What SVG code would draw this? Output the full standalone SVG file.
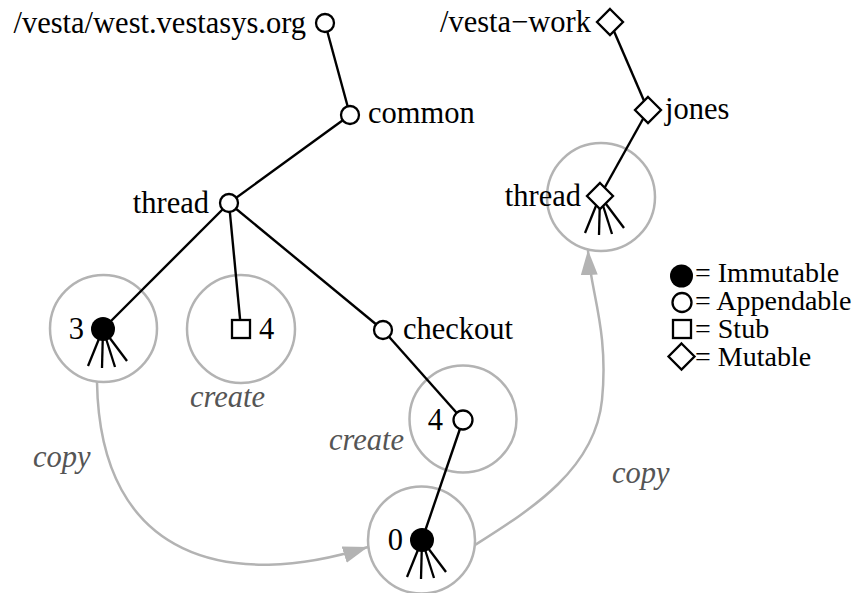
<svg xmlns="http://www.w3.org/2000/svg" xmlns:xlink="http://www.w3.org/1999/xlink" width="854" height="593" viewBox="0 0 854 593">
<style>
.lbl{font-family:"Liberation Serif","Times New Roman",serif;font-size:30.5px;fill:#000}
.leg{font-family:"Liberation Serif","Times New Roman",serif;font-size:28px;fill:#000}
.act{font-family:"Liberation Serif","Times New Roman",serif;font-size:30.5px;font-style:italic;fill:#555}
.edge{stroke:#000;stroke-width:2.4;fill:none}
.ring{stroke:#b3b3b3;stroke-width:2.5;fill:none}
.copy{stroke:#b3b3b3;stroke-width:2.5;fill:none;marker-end:url(#ah)}
.app{fill:#fff;stroke:#000;stroke-width:2.3}
.imm{fill:#000}
.fan{stroke:#000;stroke-width:2.3}
</style>
<defs>
<marker id="ah" markerUnits="userSpaceOnUse" markerWidth="26" markerHeight="20" viewBox="0 0 26 20" refX="25" refY="10" orient="auto">
<path d="M0,1.5 L25,10 L0,18.5 z" fill="#b3b3b3"/>
</marker>
<g id="fanlines">
<line class="fan" x1="0" y1="0" x2="-15" y2="37"/>
<line class="fan" x1="0" y1="0" x2="-1" y2="39"/>
<line class="fan" x1="0" y1="0" x2="12" y2="38"/>
<line class="fan" x1="0" y1="0" x2="24" y2="32"/>
</g>
</defs>
<rect width="854" height="593" fill="#fff"/>

<g id="rings">
<circle class="ring" cx="103.5" cy="328.5" r="53.5"/>
<circle class="ring" cx="241" cy="329" r="54"/>
<circle class="ring" cx="463" cy="419" r="53.5"/>
<circle class="ring" cx="421.5" cy="540" r="53.5"/>
<circle class="ring" cx="601" cy="197" r="54"/>
</g>

<g id="connectors">
<line class="edge" x1="325" y1="23" x2="350" y2="115"/>
<line class="edge" x1="350" y1="115" x2="229" y2="203"/>
<line class="edge" x1="229" y1="203" x2="103" y2="329"/>
<line class="edge" x1="229" y1="203" x2="241" y2="329"/>
<line class="edge" x1="229" y1="203" x2="383" y2="330"/>
<line class="edge" x1="383" y1="330" x2="463" y2="420"/>
<line class="edge" x1="463" y1="420" x2="422" y2="540"/>
<line class="edge" x1="610" y1="22" x2="648" y2="110"/>
<line class="edge" x1="648" y1="110" x2="600" y2="196"/>
<path class="copy" d="M97,382 C100,562 232,590 368,547"/>
<path class="copy" d="M475,545 C530,510 595,470 602,400 S590,290 588,250"/>
</g>

<g id="node-root">
<circle class="app" cx="325" cy="23" r="9"/>
<text class="lbl" x="306" y="33" text-anchor="end">/vesta/west.vestasys.org</text>
</g>
<g id="node-common">
<circle class="app" cx="350" cy="115" r="9"/>
<text class="lbl" x="368" y="123">common</text>
</g>
<g id="node-thread">
<circle class="app" cx="229" cy="203" r="9"/>
<text class="lbl" x="209" y="213" text-anchor="end">thread</text>
</g>
<g id="node-3">
<use xlink:href="#fanlines" x="103" y="329"/>
<circle class="imm" cx="103" cy="329" r="12"/>
<text class="lbl" x="84" y="339" text-anchor="end">3</text>
</g>
<g id="node-stub4">
<rect class="app" x="232" y="320" width="18" height="18"/>
<text class="lbl" x="259" y="339">4</text>
</g>
<g id="node-checkout">
<circle class="app" cx="383" cy="330" r="9"/>
<text class="lbl" x="403" y="339">checkout</text>
</g>
<g id="node-4">
<circle class="app" cx="463" cy="420" r="9.5"/>
<text class="lbl" x="443" y="430" text-anchor="end">4</text>
</g>
<g id="node-0">
<use xlink:href="#fanlines" x="422" y="540"/>
<circle class="imm" cx="422" cy="540" r="12"/>
<text class="lbl" x="403" y="550" text-anchor="end">0</text>
</g>
<g id="node-vesta-work">
<path class="app" d="M610,9 L623,22 L610,35 L597,22 z"/>
<text class="lbl" x="591" y="32" text-anchor="end">/vesta−work</text>
</g>
<g id="node-jones">
<path class="app" d="M648,97 L661,110 L648,123 L635,110 z"/>
<text class="lbl" x="665" y="119">jones</text>
</g>
<g id="node-thread2">
<use xlink:href="#fanlines" x="600" y="196"/>
<path class="app" d="M600,183 L613,196 L600,209 L587,196 z"/>
<text class="lbl" x="581" y="206" text-anchor="end">thread</text>
</g>

<g id="labels">
<text class="act" x="190" y="407">create</text>
<text class="act" x="404" y="450" text-anchor="end">create</text>
<text class="act" x="33" y="467">copy</text>
<text class="act" x="612" y="483">copy</text>
</g>

<g id="legend">
<circle class="imm" cx="681.5" cy="276" r="11.5"/>
<text class="leg" x="695" y="282">= Immutable</text>
<circle class="app" cx="682" cy="302.5" r="9.5"/>
<text class="leg" x="695" y="310">= Appendable</text>
<rect class="app" x="673" y="320" width="18" height="18"/>
<text class="leg" x="695" y="338">= Stub</text>
<path class="app" d="M681.5,343.5 L694.5,356.5 L681.5,369.5 L668.5,356.5 z"/>
<text class="leg" x="695" y="366">= Mutable</text>
</g>
</svg>
